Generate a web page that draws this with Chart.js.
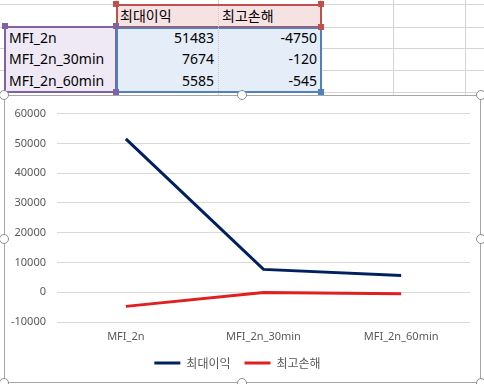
<!DOCTYPE html>
<html>
<head>
<meta charset="utf-8">
<script src="https://cdn.jsdelivr.net/npm/chart.js@4"></script>
<style>
  body { margin: 0; width: 484px; height: 384px; overflow: hidden; background: #fff; position: relative;
         font-family: "Noto Sans", "Noto Sans CJK KR", sans-serif; }
  .vl { position: absolute; top: 0; width: 1px; height: 96px; background: #d4d4d4; }
  .hl { position: absolute; left: 0; width: 484px; height: 1px; background: #d4d4d4; }
  .box { position: absolute; box-sizing: border-box; border: 2px solid; }
  .sq { position: absolute; width: 6px; height: 6px; }
  .cell { position: absolute; font-size: 14px; color: #000; height: 22px; line-height: 22px; white-space: nowrap; }
  #frame { position: absolute; left: 4px; top: 95px; width: 477px; height: 288px; box-sizing: border-box;
           border: 1px solid #a6a6a6; background: #fff; }
  #wrap { position: absolute; left: 5px; top: 96px; width: 475px; height: 286px; }
  #chart { display: block; }
  .hd { position: absolute; width: 10px; height: 10px; border-radius: 50%; background: #fff;
        border: 1px solid #8c8c8c; box-sizing: border-box; }
</style>
</head>
<body>
<div id="sheet"></div>
<div id="frame"></div>
<div id="wrap"><canvas id="chart" width="475" height="286"></canvas></div>
<div id="handles"></div>
<script>
// chart data
const categories = ['MFI_2n', 'MFI_2n_30min', 'MFI_2n_60min'];
const seriesNames = ['최대이익', '최고손해'];
const maxProfit = [51483, 7674, 5585];
const maxLoss = [-4750, -120, -545];
const yMin = -10000;
const yMax = 60000;
const yStep = 10000;

// spreadsheet background
const sheet = document.getElementById('sheet');
function add(parent, cls, style, text) {
  const d = document.createElement('div');
  d.className = cls;
  Object.assign(d.style, style);
  if (text !== undefined) d.textContent = text;
  parent.appendChild(d);
  return d;
}
[116, 218, 320, 393, 465].forEach(x => add(sheet, 'vl', { left: x + 'px' }));
[4, 27, 48, 70, 92].forEach(y => add(sheet, 'hl', { top: y + 'px' }));

// range highlights
add(sheet, 'box', { left: '116px', top: '4px', width: '206px', height: '24px', borderColor: '#c0504d', background: '#f6e2e2' });
add(sheet, 'box', { left: '4px', top: '26px', width: '113px', height: '67px', borderColor: '#8064a2', background: '#efe9f5' });
add(sheet, 'box', { left: '116px', top: '27px', width: '206px', height: '66px', borderColor: '#4f81bd', background: '#e5edf8' });
// dotted divider between the two value columns
add(sheet, '', { position: 'absolute', left: '218px', top: '6px', width: '0', height: '85px', borderLeft: '1px dotted #c8c8c8' });
[[116, 4, '#c0504d'], [321, 4, '#c0504d'], [321, 27, '#c0504d'],
 [5, 26, '#8064a2'], [116, 26, '#8064a2'], [116, 92, '#8064a2'],
 [321, 92, '#4f81bd']].forEach(([x, y, c]) =>
  add(sheet, 'sq', { left: (x - 3) + 'px', top: (y - 3) + 'px', background: c }));

// table text
add(sheet, 'cell', { left: '120px', top: '4px', fontFamily: '"Noto Sans CJK KR", sans-serif' }, seriesNames[0]);
add(sheet, 'cell', { left: '222px', top: '4px', fontFamily: '"Noto Sans CJK KR", sans-serif' }, seriesNames[1]);
const rowTops = [27, 48, 70];
categories.forEach((c, i) => {
  add(sheet, 'cell', { left: '9px', top: rowTops[i] + 'px' }, c);
  add(sheet, 'cell', { right: (484 - 214) + 'px', top: rowTops[i] + 'px' }, String(maxProfit[i]));
  add(sheet, 'cell', { right: (484 - 317) + 'px', top: rowTops[i] + 'px' }, String(maxLoss[i]));
});

// chart selection handles
const handles = document.getElementById('handles');
[[4, 95], [242, 95], [481, 95], [4, 239], [481, 239], [4, 383], [242, 383], [481, 383]].forEach(([x, y]) =>
  add(handles, 'hd', { left: (x - 5) + 'px', top: (y - 5) + 'px' }));

// chart
const tickFont = { family: '"Noto Sans", sans-serif', size: 11 };
new Chart(document.getElementById('chart'), {
  type: 'line',
  data: {
    labels: categories,
    datasets: [
      { label: seriesNames[0], data: maxProfit, borderColor: '#002060', backgroundColor: '#002060',
        borderWidth: 3, pointRadius: 0, tension: 0, pointStyle: 'line' },
      { label: seriesNames[1], data: maxLoss, borderColor: '#e01f1f', backgroundColor: '#e01f1f',
        borderWidth: 3, pointRadius: 0, tension: 0, pointStyle: 'line' }
    ]
  },
  options: {
    responsive: false,
    animation: false,
    maintainAspectRatio: false,
    layout: { padding: { top: 11, right: 10, bottom: 3, left: 0 } },
    plugins: {
      tooltip: { enabled: false },
      legend: {
        position: 'bottom',
        labels: {
          usePointStyle: true,
          pointStyleWidth: 26,
          padding: 14,
          color: '#595959',
          font: { family: '"Noto Sans CJK KR", sans-serif', size: 12 }
        }
      }
    },
    scales: {
      x: {
        offset: true,
        grid: { display: false, drawTicks: false },
        border: { display: false },
        ticks: { color: '#595959', font: tickFont, padding: 8, maxRotation: 0, autoSkip: false },
        afterFit: s => { s.height = 21; }
      },
      y: {
        min: yMin,
        max: yMax,
        grid: { color: '#d9d9d9', drawTicks: false },
        border: { display: false },
        ticks: { stepSize: yStep, color: '#595959', font: tickFont, padding: 11, autoSkip: false,
                 callback: v => String(v) },
        afterFit: s => { s.width = 52; }
      }
    }
  }
});
</script>
</body>
</html>
